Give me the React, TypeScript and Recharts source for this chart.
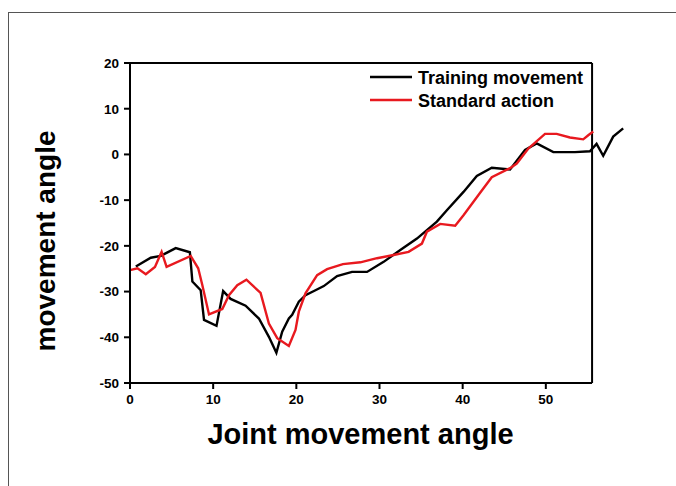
import { Label, Line, LineChart, ReferenceLine, XAxis, YAxis } from "recharts";

const trainingX = [0.7, 2.5, 3.7, 5.5, 7.2, 7.5, 8.5, 8.9, 10.4, 11.2, 12.1, 13.9, 15.5, 16.7, 17.6, 18.3, 19.1, 19.5, 20.3, 21.1, 22.3, 23.3, 24.9, 26.7, 28.5, 30.5, 32.5, 34.5, 36.9, 38.1, 40.1, 41.7, 43.5, 45.7, 47.5, 48.9, 50.9, 53.5, 55.3, 56.1, 56.9, 58.1, 59.3];
const trainingY = [-24.5, -22.6, -22.2, -20.5, -21.4, -27.8, -29.7, -36.2, -37.5, -29.9, -31.6, -33.1, -35.9, -39.9, -43.4, -38.8, -35.9, -35.1, -32.2, -30.8, -29.7, -28.8, -26.6, -25.7, -25.7, -23.5, -20.9, -18.4, -14.7, -12.2, -8.2, -4.7, -2.9, -3.3, 1.0, 2.4, 0.5, 0.5, 0.7, 2.3, -0.3, 3.9, 5.7];

const standardX = [0, 0.9, 1.9, 3.0, 3.8, 4.4, 7.3, 8.2, 8.7, 9.5, 11.1, 11.9, 12.9, 14.0, 15.7, 16.7, 17.7, 19.1, 19.9, 20.3, 21.1, 22.5, 23.7, 25.6, 27.7, 29.7, 31.7, 33.5, 35.1, 35.7, 37.3, 39.1, 40.1, 42.1, 43.5, 45.7, 46.5, 47.9, 49.9, 51.3, 52.9, 54.5, 55.1, 55.7];
const standardY = [-25.3, -24.9, -26.2, -24.6, -21.3, -24.6, -22.2, -24.9, -28.6, -35.0, -33.8, -30.8, -28.6, -27.4, -30.3, -37.0, -40.2, -41.9, -38.4, -34.4, -30.4, -26.4, -25.1, -24.0, -23.6, -22.7, -22.0, -21.3, -19.5, -16.9, -15.2, -15.6, -13.3, -8.4, -5.0, -3.0, -2.0, 1.3, 4.5, 4.5, 3.7, 3.3, 4.2, 5.0];

const xTicks = [0, 10, 20, 30, 40, 50];
const yTicks = [-50, -40, -30, -20, -10, 0, 10, 20];
const seriesNames = ["Training movement", "Standard action"];
const seriesColors = ["#000000", "#e8191f"];

const training = trainingX.map((x, i) => ({ x, y: trainingY[i] }));
const standard = standardX.map((x, i) => ({ x, y: standardY[i] }));

const boxRight = 55.56;
const font = "'Liberation Sans', Arial, sans-serif";
const tickStyle = { fill: "#000", fontSize: 13.5, fontWeight: 700, fontFamily: font };

function LegendBox() {
  return (
    <svg width={240} height={44} style={{ position: "absolute", left: 368, top: 68 }}>
      {seriesNames.map((name, i) => (
        <g key={name}>
          <line x1={2} x2={44} y1={9 + i * 23} y2={9 + i * 23} stroke={seriesColors[i]} strokeWidth={2.5} />
          <text x={50} y={15.5 + i * 23} fontSize={18} fontWeight={700} fontFamily={font} fill="#000">
            {name}
          </text>
        </g>
      ))}
    </svg>
  );
}

export default function App() {
  return (
    <div style={{ position: "fixed", left: 0, top: 0, width: 676, height: 486, overflow: "hidden", background: "#fff" }}>
      <div style={{ position: "absolute", left: 8, top: 12, width: 720, height: 520, border: "1px solid #555" }} />
      <div style={{ position: "absolute", left: 0, top: 0 }}>
        <LineChart width={676} height={486} data={training} margin={{ top: 63, right: 47, bottom: 73, left: 70 }}>
          <XAxis
            type="number"
            dataKey="x"
            domain={[0, 60]}
            ticks={xTicks}
            axisLine={false}
            tickLine={{ stroke: "#000", strokeWidth: 2 }}
            tickSize={6}
            tick={{ ...tickStyle, dy: 3 }}
            height={30}
          >
            <Label value="Joint movement angle" position="bottom" offset={10} dx={-19} style={{ fontSize: 29, fontWeight: 700, fontFamily: font, fill: "#000" }} />
          </XAxis>
          <YAxis
            type="number"
            domain={[-50, 20]}
            ticks={yTicks}
            axisLine={{ stroke: "#000", strokeWidth: 2 }}
            tickLine={{ stroke: "#000", strokeWidth: 2 }}
            tickSize={6}
            tick={{ ...tickStyle, dx: -3 }}
            width={60}
          >
            <Label value="movement angle" angle={-90} position="center" dx={-55} dy={18} style={{ fontSize: 28, fontWeight: 700, fontFamily: font, fill: "#000", textAnchor: "middle" }} />
          </YAxis>
          <ReferenceLine segment={[{ x: 0, y: 20 }, { x: boxRight, y: 20 }]} stroke="#000" strokeWidth={2} />
          <ReferenceLine segment={[{ x: boxRight, y: 20 }, { x: boxRight, y: -50 }]} stroke="#000" strokeWidth={2} />
          <ReferenceLine segment={[{ x: 0, y: -50 }, { x: boxRight, y: -50 }]} stroke="#000" strokeWidth={2} />
          <Line data={training} dataKey="y" name={seriesNames[0]} stroke={seriesColors[0]} strokeWidth={2.4} dot={false} isAnimationActive={false} type="linear" />
          <Line data={standard} dataKey="y" name={seriesNames[1]} stroke={seriesColors[1]} strokeWidth={2.4} dot={false} isAnimationActive={false} type="linear" />
        </LineChart>
      </div>
      <LegendBox />
    </div>
  );
}
